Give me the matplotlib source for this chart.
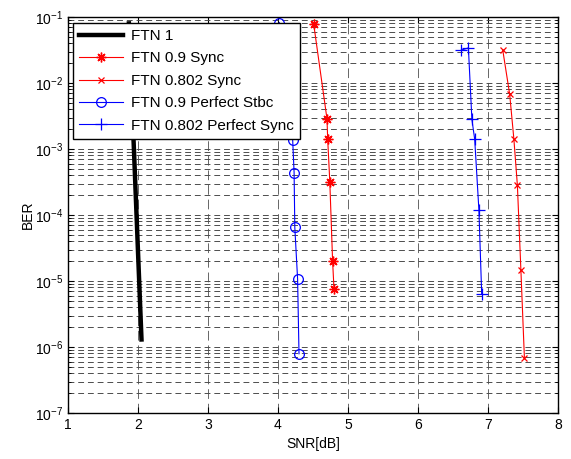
import numpy as np
import matplotlib
matplotlib.use("Agg")
import matplotlib.pyplot as plt
from matplotlib.ticker import LogLocator, FixedLocator, NullFormatter

plt.rcParams['font.family'] = ['Liberation Sans', 'DejaVu Sans']

# data
snr_ftn1 = [1.87, 2.05]
ber_ftn1 = [8.0e-2, 1.3e-6]

snr_09_sync = [4.51, 4.70, 4.71, 4.74, 4.78, 4.80]
ber_09_sync = [7.8e-2, 2.85e-3, 1.4e-3, 3.2e-4, 2.0e-5, 7.6e-6]

snr_0802_sync = [7.21, 7.31, 7.37, 7.42, 7.47, 7.52]
ber_0802_sync = [3.2e-2, 6.7e-3, 1.4e-3, 2.8e-4, 1.45e-5, 6.9e-7]

snr_09_perf = [4.02, 4.21, 4.23, 4.24, 4.28, 4.30]
ber_09_perf = [8.2e-2, 1.35e-3, 4.4e-4, 6.5e-5, 1.07e-5, 7.9e-7]

snr_0802_perf = [6.62, 6.72, 6.77, 6.81, 6.87, 6.91]
ber_0802_perf = [3.16e-2, 3.4e-2, 2.8e-3, 1.4e-3, 1.2e-4, 6.3e-6]

labels = ["FTN 1", "FTN 0.9 Sync", "FTN 0.802 Sync", "FTN 0.9 Perfect Stbc", "FTN 0.802 Perfect Sync"]
xticks = [1, 2, 3, 4, 5, 6, 7, 8]

fig = plt.figure(figsize=(5.71, 4.59), dpi=100)
ax = fig.add_axes([68/571, 1-413/459, (558-68)/571, (413-17)/459])

ax.plot(snr_ftn1, ber_ftn1, color='black', lw=3.2, label=labels[0])
ax.plot(snr_09_sync, ber_09_sync, color='red', lw=0.8, marker=(8, 2, 0), ms=7, mew=1.0, label=labels[1])
ax.plot(snr_0802_sync, ber_0802_sync, color='red', lw=0.8, marker='x', ms=4.5, mew=0.9, label=labels[2])
ax.plot(snr_09_perf, ber_09_perf, color='blue', lw=0.8, marker='o', ms=7, mfc='none', mew=0.9, label=labels[3])
ax.plot(snr_0802_perf, ber_0802_perf, color='blue', lw=0.8, marker='+', ms=9, mew=0.9, label=labels[4])

ax.set_yscale('log')
ax.set_xlim(1, 8)
ax.set_ylim(1e-7, 1e-1)
ax.xaxis.set_major_locator(FixedLocator(xticks))
ax.yaxis.set_major_locator(LogLocator(base=10, numticks=20))
ax.yaxis.set_minor_locator(LogLocator(base=10, subs=np.arange(2, 10), numticks=20))
ax.yaxis.set_minor_formatter(NullFormatter())

ax.yaxis.grid(True, which='both', linestyle=(0, (6, 4)), linewidth=0.7, color='0.3')
ax.xaxis.grid(True, which='major', linestyle=(0, (10, 5)), linewidth=0.7, color='0.4')
ax.set_axisbelow(True)

ax.tick_params(which='both', direction='in', top=True, right=True, labelsize=10)
ax.tick_params(which='major', length=4)
ax.tick_params(which='minor', length=2)
for s in ax.spines.values():
    s.set_linewidth(1.0)

ax.set_xlabel("SNR[dB]", fontsize=10, labelpad=4)
ax.set_ylabel("BER", fontsize=10, labelpad=0)

leg = ax.legend(loc='upper left', bbox_to_anchor=(0.01, 0.985), borderaxespad=0,
                fontsize=11, fancybox=False, framealpha=1, edgecolor='black',
                handlelength=2.9, handletextpad=0.5, labelspacing=0.55, borderpad=0.4)
leg.get_frame().set_linewidth(1.0)
leg.set_zorder(10)

fig.savefig("out.png", dpi=100)
